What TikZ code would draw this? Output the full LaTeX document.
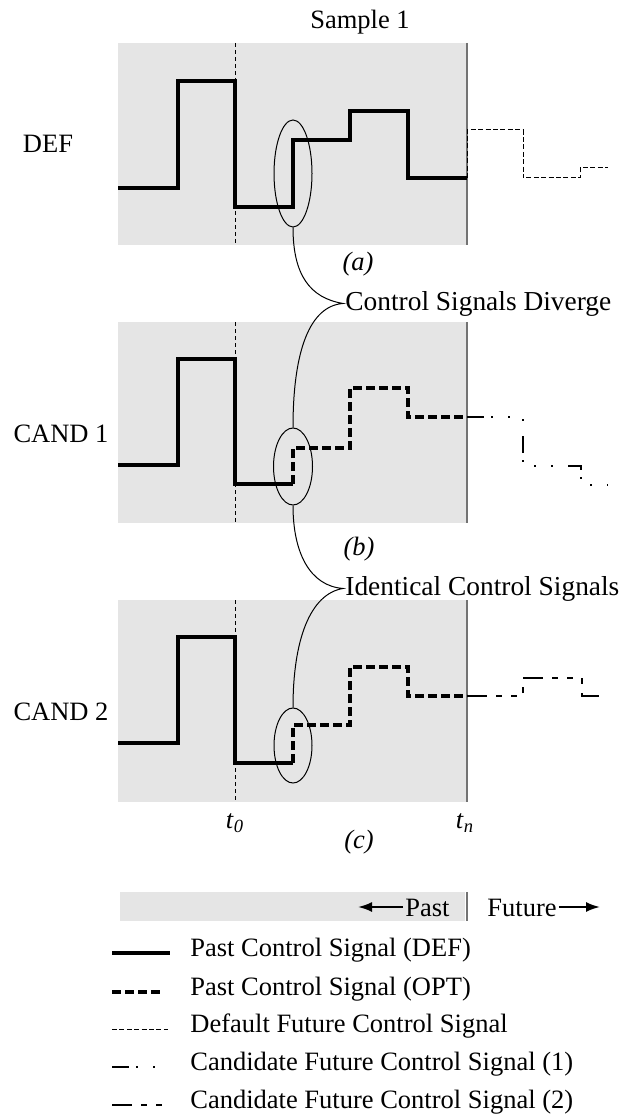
\documentclass[tikz,border=0pt]{standalone}
\usepackage{fontspec}
\setmainfont{Liberation Serif}
\usepackage{tikz}
\usetikzlibrary{arrows.meta,positioning,shapes.geometric}

\begin{document}
\begin{tikzpicture}
[x=0.5pt, y=-0.5pt,
% STYLES
every node/.style={font=\fontsize{13.25pt}{16pt}\selectfont, inner sep=1pt},
% The note style is used for the texts next to the split points
note/.style={anchor=base west, font=\fontsize{13.7pt}{16pt}\selectfont},
% The panel style is the grey window of past samples
panel/.style={fill=black!10, draw=none},
% signal styles, one for each kind of control signal
pastsig/.style={line width=2pt, line join=miter},
optsig/.style={line width=2pt, dash pattern=on 4.5pt off 2pt},
deffut/.style={line width=0.5pt, dash pattern=on 2.5pt off 1.2pt},
candone/.style={line width=0.6pt, dash pattern=on 8.5pt off 3.5pt on 1pt off 7.5pt on 1pt off 7.5pt on 1pt off 7.5pt},
candtwo/.style={line width=0.6pt, dash pattern=on 10pt off 4.5pt on 3pt off 4.5pt on 3pt off 4.5pt on 3pt off 4.5pt},
% time marks
tline/.style={line width=0.5pt, dash pattern=on 2pt off 1.5pt},
nowline/.style={line width=0.8pt, draw=black!55},
% The bubble style circles the point where the signals split
bubble/.style={ellipse, draw, line width=0.5pt, inner sep=0pt, minimum width=19pt},
brace/.style={line width=0.5pt},
arr/.style={line width=1pt, -{Latex[length=7pt,width=5pt]}}]

\useasboundingbox (0,0) rectangle (620,1118);

% Draw panels
\foreach \ptop/\pbot in {43/245, 322/523, 600/802} {
  \fill[panel] (118,\ptop) rectangle (467,\pbot);
  \draw[tline] (235,\ptop) -- (235,\pbot);
  \draw[nowline] (467,\ptop) -- (467,\pbot);
}

%%%%%%%%%%%%%%%
% Signals

% DEF
\draw[pastsig] (118,188) -| (178,81) -| (235,207) -| (293,140) -| (350,111) -| (408,178) -- (467,178);
\draw[deffut] (467,178) |- (523,130) |- (580,178) |- (608,168);

% CAND 1
\draw[pastsig] (118,465) -| (178,359) -| (235,484) -- (293,484);
\draw[optsig] (293,484) |- (350,448) |- (408,388) |- (467,417);
\draw[candone] (467,417) -| (523,466) -| (581,485) -- (608,485);

% CAND 2
\draw[pastsig] (118,743) -| (178,637) -| (235,763) -- (293,763);
\draw[optsig] (293,763) |- (350,725) |- (408,667) |- (467,696);
\draw[candtwo] (467,696) -| (523,678) -| (582,696) -- (608,696);

%%%%%%%%%%%%%%%
% Labels
\node [anchor=base] (sample) at (360,29) {Sample 1};
\node (def) at (48,144) {DEF};
\node (candA) at (61,434) {CAND 1};
\node (candB) at (61,712) {CAND 2};
\node (capa) at (358,264) {\textit{(a)}};
\node (capb) at (359,549) {\textit{(b)}};
\node (capc) at (359,842) {\textit{(c)}};
\node (tzero) at (235,823) {\textit{t}\textsubscript{\textit{0}}};
\node (tend) at (465,823) {\textit{t}\textsubscript{\textit{n}}};

% split points
\node [bubble, minimum height=53.5pt] (diva) at (293,173.5) {};
\node [bubble, minimum height=38.5pt, minimum width=19.5pt] (divb) at (293,466.5) {};
\node [bubble, minimum height=37.5pt] (divc) at (293,745.5) {};
\node [note] (diverge) at (343,310) {Control Signals Diverge};
\node [note] (identical) at (343,595) {Identical Control Signals};

\draw[brace] (diva.south) .. controls (293,275) and (310,298) .. (diverge.west)
  .. controls (310,306) and (293,350) .. (divb.north);
\draw[brace] (divb.south) .. controls (293,553) and (310,586) .. (identical.west)
  .. controls (310,594) and (293,640) .. (divc.north);

%%%%%%%%%%%%%%%
% Legend
\fill[panel] (120,892) rectangle (465,921);
\draw[nowline] (467,892) -- (467,921);
\node [anchor=base west] (past) at (403,916) {Past};
\node [anchor=base west] (future) at (485,916) {Future};
\coordinate (pastend) at (358,907);
\coordinate (futend) at (600,907);
\draw[arr] (past.west |- pastend) -- (pastend);
\draw[arr] (future.east |- futend) -- (futend);

\foreach \i/\yy/\sty/\xe/\txt in {1/953/pastsig/170/Past Control Signal (DEF),
    2/992/optsig/163/Past Control Signal (OPT),
    3/1029/deffut/168/Default Future Control Signal,
    4/1067/candone/168/Candidate Future Control Signal (1),
    5/1105/candtwo/163/Candidate Future Control Signal (2)} {
  \draw[\sty] (112,\yy) -- (\xe,\yy);
  \node [anchor=base west] (leg\i) at (188,\yy+3.5) {\txt};
}

\end{tikzpicture}
\end{document}
